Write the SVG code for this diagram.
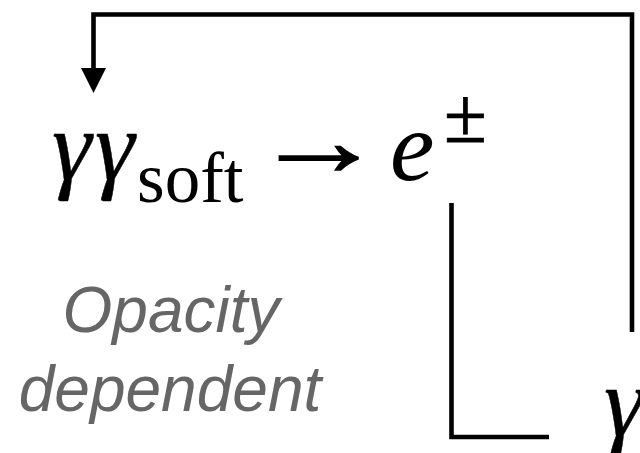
<svg xmlns="http://www.w3.org/2000/svg" width="640" height="453" viewBox="0 0 640 453">
<style>
.ln{fill:none;stroke:#000;stroke-width:4.6;stroke-linejoin:miter;stroke-linecap:butt}
.m{font-family:"Liberation Serif","Times New Roman",serif;fill:#000}
.it{font-style:italic}
.lbl{font-family:"Liberation Sans",Arial,sans-serif;font-style:italic;font-size:64px;fill:#666;text-anchor:middle}
</style>
<rect width="640" height="453" fill="#fff"/>
<g id="connectors">
<polyline class="ln" points="632,332 632,14.5 93.5,14.5 93.5,72"/>
<polygon points="81,68 106,68 93.5,93" fill="#000"/>
<polyline class="ln" points="451.5,203 451.5,437 549,437"/>
</g>
<g id="reaction">
<text class="m it" x="52" y="180" font-size="100" stroke="#000" stroke-width="0.5">γ</text>
<text class="m it" x="95" y="180" font-size="100" stroke="#000" stroke-width="0.5">γ</text>
<text class="m" x="137" y="202" font-size="71">soft</text>
<text class="m" transform="translate(253,175) scale(1.32,1)" font-size="100" stroke="#000" stroke-width="1.6">→</text>
<text class="m it" x="390" y="180" font-size="100">e</text>
<text class="m" x="444" y="142" font-size="78" stroke="#000" stroke-width="0.8">±</text>
</g>
<g id="opacity-label">
<text class="lbl" x="171" y="332">Opacity</text>
<text class="lbl" x="170" y="411">dependent</text>
</g>
<g id="gamma">
<text class="m it" x="604" y="436" font-size="100" stroke="#000" stroke-width="0.5">γ</text>
</g>
</svg>
